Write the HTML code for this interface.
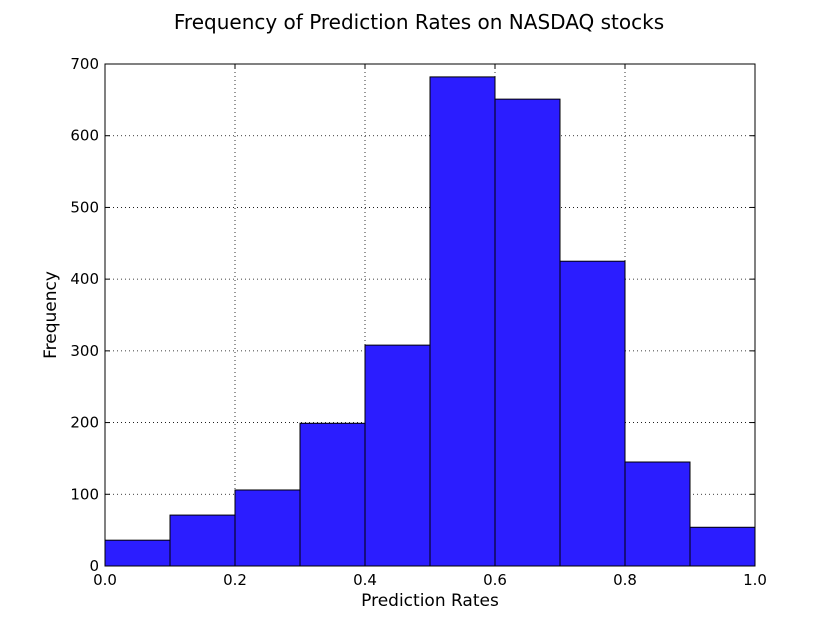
<!DOCTYPE html>
<html><head><meta charset="utf-8"><style>
html,body{margin:0;padding:0;background:#fff;}
svg{display:block;font-family:"DejaVu Sans","Liberation Sans",sans-serif;}
</style></head><body>
<svg id="chart" width="839" height="630">
<text x="419" y="29" text-anchor="middle" font-size="20">Frequency of Prediction Rates on NASDAQ stocks</text>
<g id="grid"></g><g id="bars"></g>
<rect x="105" y="64" width="650" height="502" fill="none" stroke="#000" stroke-width="1"/>
<g id="ticks"></g>
<text x="430" y="606" text-anchor="middle" font-size="17">Prediction Rates</text>
<text x="56" y="315" text-anchor="middle" font-size="17" transform="rotate(-90 56 315)">Frequency</text>
</svg>
<script>
const binStarts=[0,0.1,0.2,0.3,0.4,0.5,0.6,0.7,0.8,0.9];
const counts=[36,71,106,199,308,682,651,425,145,54];
const xTicks=["0.0","0.2","0.4","0.6","0.8","1.0"];
const yTicks=["0","100","200","300","400","500","600","700"];
const binWidth=0.1;
const X0=105,X1=755,Y0=566,Y1=64,YMAX=700;
const sx=v=>X0+(X1-X0)*v;
const sy=v=>Y0-(Y0-Y1)*v/YMAX;
const NS="http://www.w3.org/2000/svg";
function mk(t,a,p){const e=document.createElementNS(NS,t);for(const k in a)e.setAttribute(k,a[k]);p.appendChild(e);return e;}
const grid=document.getElementById('grid'),bars=document.getElementById('bars'),ticks=document.getElementById('ticks');
xTicks.forEach(t=>{const x=sx(parseFloat(t));
 const g=mk('line',{x1:x,x2:x,y1:Y1,y2:Y0,stroke:'#000','stroke-dasharray':'1,3','stroke-width':0.8},grid);
 
 
 mk('line',{x1:x,x2:x,y1:Y0,y2:Y0-5,stroke:'#000'},ticks);
 mk('line',{x1:x,x2:x,y1:Y1,y2:Y1+5,stroke:'#000'},ticks);
 const l=mk('text',{x:x,y:Y0+19,'text-anchor':'middle','font-size':15},ticks);l.textContent=t;
 
 
});
yTicks.forEach(t=>{const y=sy(parseFloat(t));
 const g=mk('line',{x1:X0,x2:X1,y1:y,y2:y,stroke:'#000','stroke-dasharray':'1,3','stroke-width':0.8},grid);
 
 
 mk('line',{x1:X0,x2:X0+5,y1:y,y2:y,stroke:'#000'},ticks);
 mk('line',{x1:X1,x2:X1-5,y1:y,y2:y,stroke:'#000'},ticks);
 const l=mk('text',{x:X0-6,y:y+5,'text-anchor':'end','font-size':15},ticks);l.textContent=t;
 
 
});
binStarts.forEach((b,i)=>{const x=sx(b),w=sx(b+binWidth)-x,y=sy(counts[i]);
 const r=mk('rect',{x:x,y:y,width:w,height:Y0-y,fill:'#2b1dff',stroke:'#000','stroke-width':1},bars);
 
 
});
</script>
</body></html>
